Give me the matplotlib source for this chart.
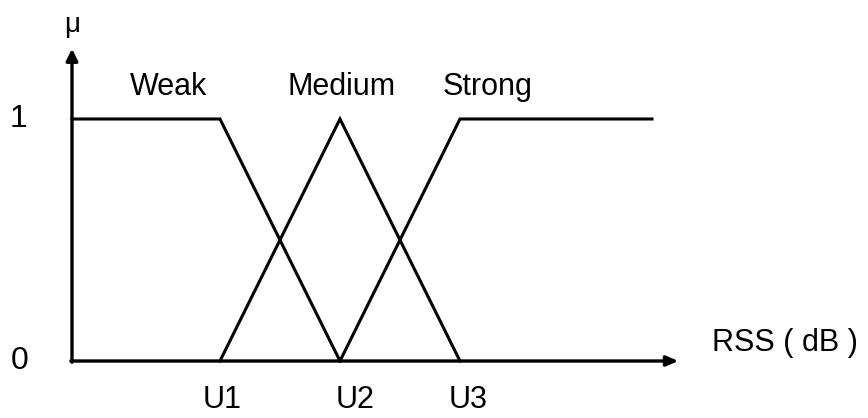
import matplotlib.pyplot as plt
import numpy as np

plt.rcParams['font.family'] = ['Liberation Sans', 'DejaVu Sans']

# membership functions (x in units of U, y = membership)
weak_x = [-0.233, 1, 2]
weak_y = [1, 1, 0]
medium_x = [1, 2, 3]
medium_y = [0, 1, 0]
strong_x = [2, 3, 4.6]
strong_y = [0, 1, 1]

set_names = ['Weak', 'Medium', 'Strong']
set_label_x = [0.567, 2.017, 3.233]
tick_names = ['U1', 'U2', 'U3']
tick_x = [1.02, 2.125, 3.067]

fig = plt.figure(figsize=(8.68, 4.18), dpi=100)
ax = fig.add_axes([0, 0, 1, 1])
ax.set_xlim(-0.833, 6.4)
ax.set_ylim(-0.2355, 1.4917)
ax.axis('off')

x0 = -0.233
# axes with arrows
ax.annotate('', xy=(x0, 1.29), xytext=(x0, -0.005),
            arrowprops=dict(arrowstyle='-|>,head_length=0.7,head_width=0.35',
                            color='black', lw=2.4, shrinkA=0, shrinkB=0))
ax.annotate('', xy=(4.82, 0), xytext=(x0 - 0.01, 0),
            arrowprops=dict(arrowstyle='-|>,head_length=0.7,head_width=0.3',
                            color='black', lw=2.4, shrinkA=0, shrinkB=0))

for xs, ys in [(weak_x, weak_y), (medium_x, medium_y), (strong_x, strong_y)]:
    ax.plot(xs, ys, color='black', lw=2.2, solid_joinstyle='miter')

for name, xl in zip(set_names, set_label_x):
    ax.text(xl, 1.132, name, fontsize=22, ha='center', va='center')

for name, xl in zip(tick_names, tick_x):
    ax.text(xl, -0.16, name, fontsize=22, ha='center', va='center')

ax.text(-0.683, 1.0, '1', fontsize=23, ha='center', va='center')
ax.text(-0.667, 0.0, '0', fontsize=23, ha='center', va='center')
ax.text(x0, 1.39, 'μ', fontsize=20, ha='center', va='center')
ax.text(5.1, 0.075, 'RSS ( dB )', fontsize=22, ha='left', va='center')

fig.savefig('out.png', dpi=100)
